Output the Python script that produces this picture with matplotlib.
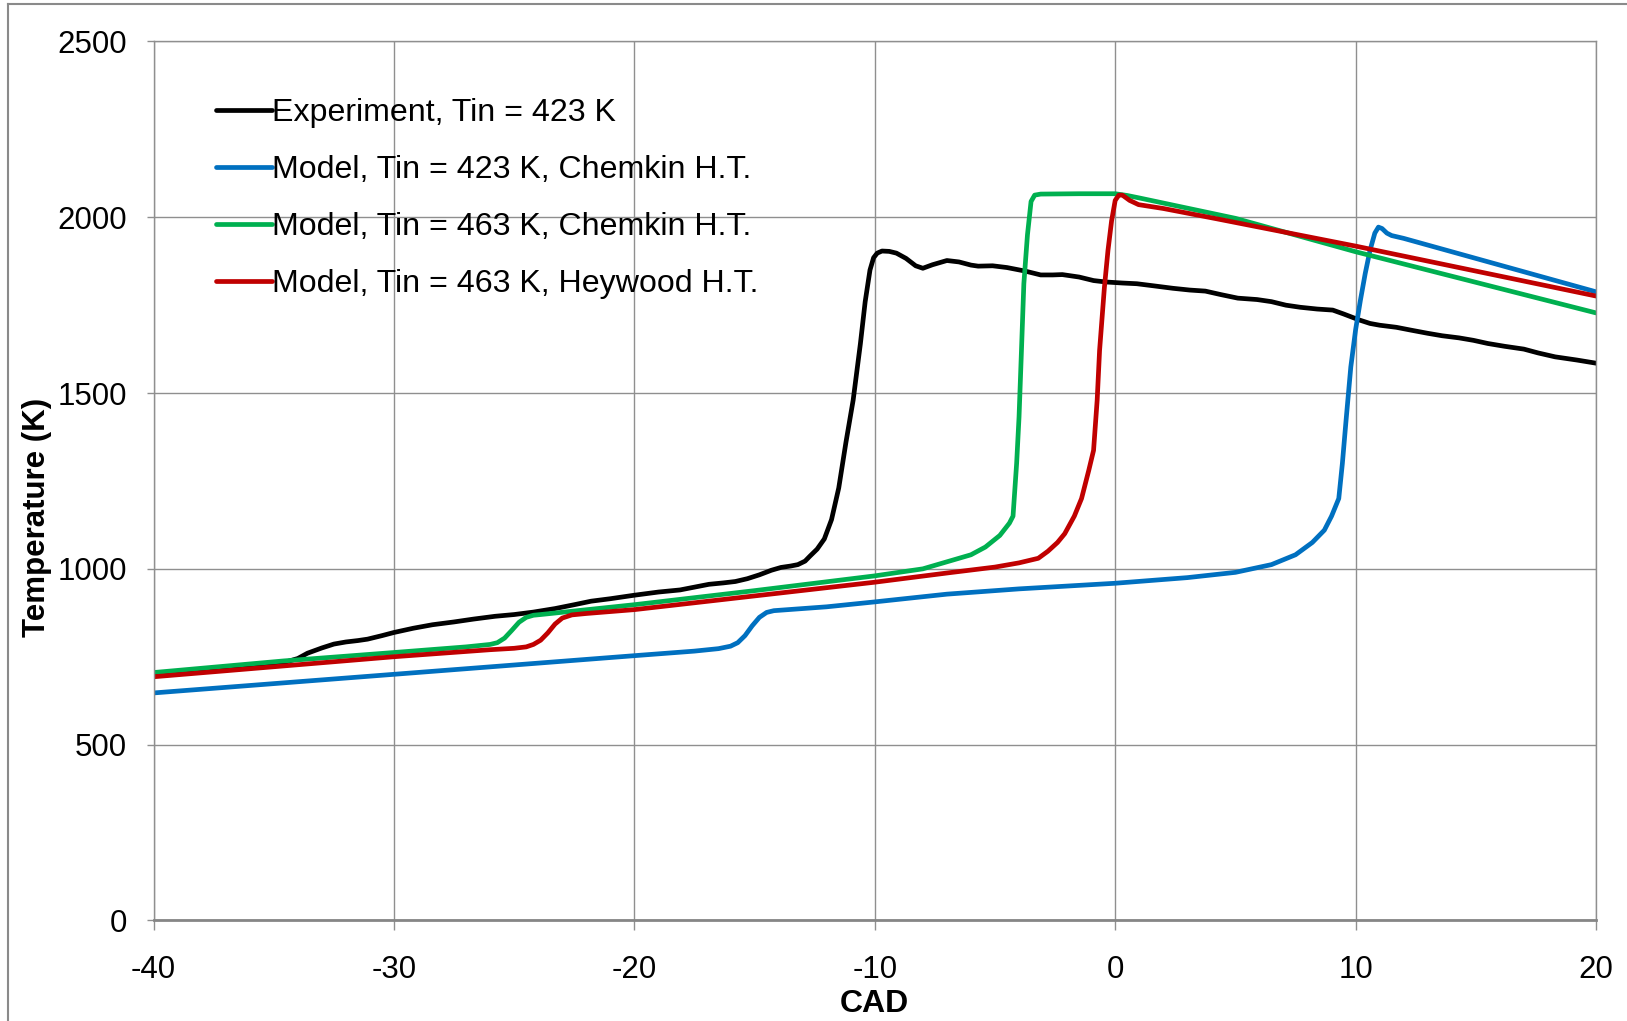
import matplotlib
matplotlib.use("Agg")
import matplotlib.pyplot as plt
from matplotlib.lines import Line2D

plt.rcParams['font.family'] = ['Liberation Sans', 'DejaVu Sans']

# Experiment, Tin = 423 K
exp_cad = [-40, -38, -36, -35, -34.6, -34, -33.6, -33, -32.5, -32, -31.5, -31.1, -30.5, -30,
           -29.2, -28.4, -27.5, -26.7, -25.8, -25, -24.2, -23.3, -22.5, -21.8, -21, -20, -19,
           -18.1, -17.5, -16.9, -16.3, -15.8, -15.3, -14.8, -14.3, -13.9, -13.5, -13.2, -12.9,
           -12.7, -12.4, -12.1, -11.8, -11.5, -11.2, -10.9, -10.6, -10.4, -10.2, -10.05, -9.9,
           -9.7, -9.4, -9.1, -8.7, -8.3, -8.0, -7.6, -7.0, -6.5, -6.0, -5.7, -5.1, -4.5, -3.75,
           -3.1, -2.6, -2.2, -1.5, -0.9, -0.4, 0.3, 0.9, 1.6, 2.4, 3.1, 3.75, 4.4, 5.1, 5.9, 6.5,
           7.1, 7.7, 8.4, 9.05, 9.5, 10.15, 10.6, 11.0, 11.7, 12.3, 13.0, 13.6, 14.3, 14.9, 15.5,
           16.2, 17.0, 17.6, 18.3, 19.2, 20]
exp_temp = [697, 708, 722, 728, 733, 745, 760, 775, 786, 792, 796, 800, 810, 819,
            831, 841, 849, 857, 865, 870, 877, 887, 898, 908, 915, 925, 934,
            940, 948, 956, 960, 964, 972, 983, 996, 1004, 1008, 1012, 1022,
            1036, 1056, 1085, 1140, 1230, 1360, 1480, 1640, 1760, 1850, 1885, 1898,
            1904, 1903, 1898, 1883, 1862, 1855, 1865, 1877, 1873, 1864, 1861, 1862, 1857, 1847,
            1836, 1836, 1837, 1830, 1820, 1816, 1813, 1811, 1805, 1798, 1793, 1790, 1780, 1770,
            1766, 1760, 1750, 1744, 1739, 1736, 1725, 1708, 1698, 1693, 1687, 1679, 1670, 1663,
            1657, 1650, 1641, 1633, 1625, 1614, 1603, 1594, 1585]

# Model, Tin = 423 K, Chemkin heat transfer
m423_cad = [-40, -30, -20, -17.5, -16.5, -16, -15.7, -15.4, -15.1, -14.8, -14.5, -14.2, -12,
            -10, -7, -4, 0, 3, 5, 6.5, 7.5, 8.2, 8.7, 9.0, 9.3, 9.45, 9.6, 9.8, 10.0, 10.2,
            10.4, 10.6, 10.8, 10.95, 11.1, 11.3, 11.5, 12, 15, 20]
m423_temp = [647, 700, 753, 766, 773, 780, 790, 810, 838, 862, 876, 881, 892,
             906, 928, 943, 959, 975, 990, 1012, 1040, 1075, 1110, 1150, 1200, 1300, 1420,
             1574, 1680, 1764, 1840, 1906, 1955, 1972, 1968, 1955, 1948, 1940, 1883, 1788]

# Model, Tin = 463 K, Chemkin heat transfer
m463c_cad = [-40, -34.6, -30, -27, -26, -25.7, -25.4, -25.1, -24.8, -24.5, -24.2, -23.9, -20,
             -15, -10, -8, -6.9, -6, -5.4, -4.8, -4.4, -4.25, -4.1, -4.0, -3.9, -3.8, -3.65,
             -3.5, -3.35, -3.1, -1.5, 0, 0.5, 1, 5, 10, 15, 20]
m463c_temp = [705, 738, 762, 778, 785, 790, 803, 825, 848, 862, 868, 870, 898,
              938, 980, 1000, 1022, 1040, 1062, 1095, 1130, 1150, 1300, 1432, 1620, 1811, 1950,
              2045, 2063, 2066, 2067, 2067, 2062, 2055, 1997, 1902, 1815, 1728]

# Model, Tin = 463 K, Heywood heat transfer
m463h_cad = [-40, -30, -26, -25, -24.5, -24.2, -23.9, -23.6, -23.3, -23.0, -22.6, -22, -20,
             -15, -10, -6.9, -5, -4, -3.2, -2.8, -2.4, -2.1, -1.7, -1.4, -1.1, -0.9, -0.75,
             -0.65, -0.45, -0.3, -0.15, 0, 0.15, 0.3, 0.6, 0.97, 2, 4.2, 10, 20]
m463h_temp = [693, 750, 770, 774, 778, 785, 797, 818, 843, 860, 869, 873, 884,
              923, 962, 989, 1005, 1017, 1030, 1050, 1075, 1100, 1150, 1200, 1280, 1337, 1480,
              1621, 1800, 1906, 1990, 2048, 2063, 2063, 2048, 2036, 2025, 1996, 1918, 1776]

series_labels = ["Experiment, Tin = 423 K",
                 "Model, Tin = 423 K, Chemkin H.T.",
                 "Model, Tin = 463 K, Chemkin H.T.",
                 "Model, Tin = 463 K, Heywood H.T."]
series_colors = ["#000000", "#0070C0", "#00B050", "#C00000"]

x_ticks = [-40, -30, -20, -10, 0, 10, 20]
y_ticks = [0, 500, 1000, 1500, 2000, 2500]

fig = plt.figure(figsize=(16.27, 10.21), dpi=100)
ax = fig.add_axes([153.6 / 1627, 1 - 920.4 / 1021, (1596 - 153.6) / 1627, (920.4 - 41.5) / 1021])

data = [(exp_cad, exp_temp), (m423_cad, m423_temp), (m463c_cad, m463c_temp), (m463h_cad, m463h_temp)]
for (xs, ys), lab, col in zip(data, series_labels, series_colors):
    ax.plot(xs, ys, color=col, lw=3.4, label=lab, solid_capstyle='round', solid_joinstyle='round')

ax.set_xlim(-40, 20)
ax.set_ylim(0, 2500)
ax.set_xticks(x_ticks)
ax.set_yticks(y_ticks)
ax.set_xticklabels([str(v) for v in x_ticks])
ax.set_yticklabels([str(v) for v in y_ticks])

grid_col = "#8f8f8f"
ax.grid(True, color=grid_col, lw=1.0)
ax.set_axisbelow(True)
for side in ("left", "right", "top"):
    ax.spines[side].set_color(grid_col)
    ax.spines[side].set_linewidth(1.0)
ax.spines["bottom"].set_color("#868686")
ax.spines["bottom"].set_linewidth(2.0)

ax.tick_params(axis='y', direction='out', length=5, width=1.0, color=grid_col,
               labelsize=22.5, pad=14)
ax.tick_params(axis='x', direction='out', length=7.5, width=1.0, color=grid_col,
               labelsize=22.5, pad=17.5)

ax.set_xlabel("CAD", fontsize=23, fontweight='bold')
ax.set_ylabel("Temperature (K)", fontsize=22.5, fontweight='bold')
ax.xaxis.set_label_coords(0.5, -0.0785)
ax.yaxis.set_label_coords(-0.0707, 0.459)

leg = ax.legend(loc='upper left', bbox_to_anchor=(216 / 1627, 1 - 98 / 1021),
                bbox_transform=fig.transFigure, frameon=False, fontsize=23.1,
                handlelength=1.75, handletextpad=0.0, borderpad=0.0, borderaxespad=0.0,
                labelspacing=0.84)

# chart area border (top and left edges fall inside the canvas)
border_col = "#8a8a8a"
fig.add_artist(Line2D([8 / 1627, 8 / 1627], [0, 1 - 4.5 / 1021], transform=fig.transFigure,
                      color=border_col, lw=1.5))
fig.add_artist(Line2D([8 / 1627, 1], [1 - 4.5 / 1021, 1 - 4.5 / 1021], transform=fig.transFigure,
                      color=border_col, lw=1.5))

fig.savefig("out.png", dpi=100)
